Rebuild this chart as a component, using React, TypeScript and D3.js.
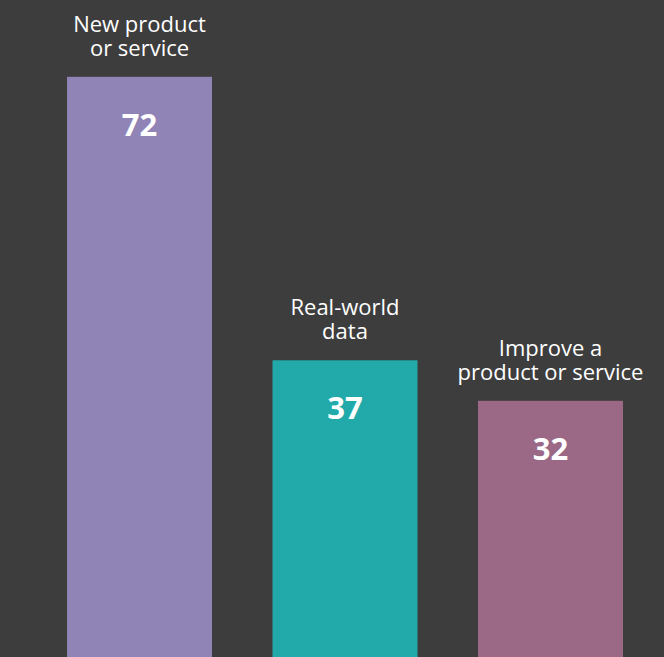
import React from "react";
import * as d3 from "d3";

const categories = ["New product or service", "Real-world data", "Improve a product or service"];
const labelLines = [["New product", "or service"], ["Real-world", "data"], ["Improve a", "product or service"]];
const values = [72, 37, 32];
const colors = ["#9083b5", "#22aaaa", "#9b6986"];

const W = 664;
const H = 657;

export default function App() {
  const x = d3.scaleBand<string>().domain(categories).range([67, 623]).paddingInner(0.2944).paddingOuter(0);
  const y = d3.scaleLinear().domain([0, 80]).range([660, 660 - 80 * 8.1]);
  const font = "'Open Sans', sans-serif";
  return (
    <svg width={W} height={H} style={{ position: "fixed", left: 0, top: 0, display: "block" }}>
      <rect x={0} y={0} width={W} height={H} fill="#3d3d3d" />
      {categories.map((c, i) => {
        const bx = x(c)!;
        const bw = x.bandwidth();
        const top = y(values[i]);
        const cx = bx + bw / 2;
        const lines = labelLines[i];
        return (
          <g key={c}>
            <rect x={bx} y={top} width={bw} height={y(0) - top} fill={colors[i]} />
            <text
              x={cx}
              y={top - 21 - (lines.length - 1) * 24}
              textAnchor="middle"
              fill="#ffffff"
              fontFamily={font}
              fontSize={22}
            >
              {lines.map((ln, j) => (
                <tspan key={j} x={cx} dy={j === 0 ? 0 : 24}>
                  {ln}
                </tspan>
              ))}
            </text>
            <text x={cx} y={top + 59} textAnchor="middle" fill="#ffffff" fontFamily={font} fontWeight={700} fontSize={31}>
              {values[i]}
            </text>
          </g>
        );
      })}
    </svg>
  );
}
